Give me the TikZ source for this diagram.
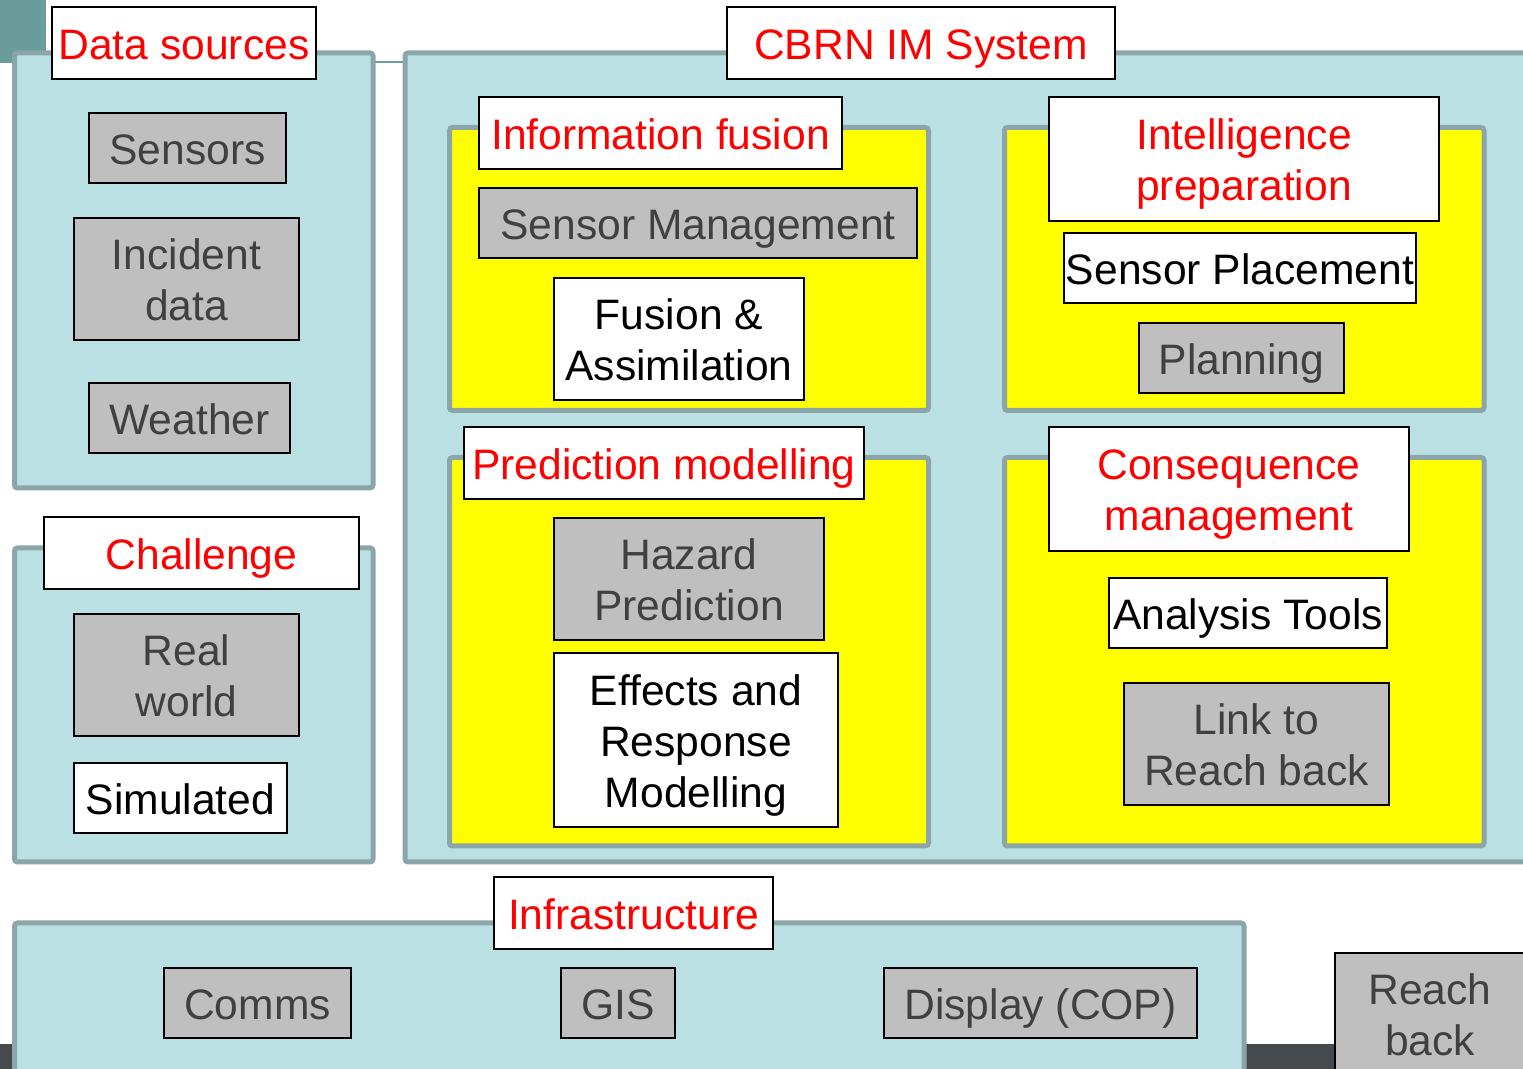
\documentclass[tikz,border=0pt]{standalone}
\usepackage{fontspec}
\setmainfont{Liberation Sans}
\definecolor{panelfill}{HTML}{BAE0E3}
\definecolor{panelline}{HTML}{8BA5A8}
\definecolor{zonefill}{HTML}{FFFF00}
\definecolor{greyfill}{HTML}{BFBFBF}
\definecolor{greytext}{HTML}{404040}
\definecolor{accent}{HTML}{6A9C9C}
\definecolor{darkbar}{HTML}{474A4D}
\begin{document}
\begin{tikzpicture}[x=0.5pt,y=-0.5pt,
  txt/.style={font=\fontsize{21.3}{25.5}\selectfont, align=center, inner sep=0pt},
  % fixed line metrics so that every line is centred the same way
  oneline/.style={text height=20.8pt, text depth=4.5pt},
  twolines/.style={text height=46.3pt, text depth=4.5pt},
  threelines/.style={text height=71.8pt, text depth=4.5pt},
  panel/.style={draw=panelline, fill=panelfill, line width=2.5pt, rounded corners=1.5pt, inner sep=0pt},
  zone/.style={draw=panelline, fill=zonefill, line width=2.5pt, rounded corners=1.5pt, inner sep=0pt},
  heading/.style={txt, draw=black, fill=white, line width=1pt, text=red},
  greybox/.style={txt, draw=black, fill=greyfill, line width=1pt, text=greytext},
  whitebox/.style={txt, draw=black, fill=white, line width=1pt, text=black}]
\useasboundingbox (0,0) rectangle (1523,1069);
\clip (0,0) rectangle (1523,1069);
\fill[white] (0,0) rectangle (1523,1069);

% page decoration
\fill[darkbar] (0,1044) rectangle (1523,1069);
\draw[accent, line width=1pt] (0,62) -- (1523,62);
\fill[accent] (0,0) rectangle (46,62);

% outer panels
\node[panel, minimum width=179.25pt, minimum height=217.5pt] (dsF) at (193.75,270.5) {};
\node[panel, minimum width=179.25pt, minimum height=157pt] (chF) at (193.75,705) {};
\node[panel, minimum width=565pt, minimum height=404.5pt] (cbF) at (970,457.5) {};
\node[panel, minimum width=614.75pt, minimum height=78.5pt] (inF) at (629.25,1001.5) {};

% yellow zones inside the system panel
\node[zone, minimum width=239.5pt, minimum height=141.5pt] (ifZ) at (689,269) {};
\node[zone, minimum width=239.75pt, minimum height=141.5pt] (ipZ) at (1244.25,269) {};
\node[zone, minimum width=239.5pt, minimum height=194.25pt] (pmZ) at (689,651.75) {};
\node[zone, minimum width=239.75pt, minimum height=194.25pt] (cmZ) at (1244.25,651.75) {};

% headings
\node[heading, oneline, minimum width=132pt, minimum height=36pt] (dsT) at (184,43) {Data sources};
\node[heading, oneline, minimum width=194pt, minimum height=36pt] (cbT) at (921,43) {CBRN IM System};
\node[heading, oneline, minimum width=181.5pt, minimum height=36pt] (ifT) at (660.5,133) {Information fusion};
\node[heading, twolines, minimum width=195pt, minimum height=62pt] (ipT) at (1244,159) {Intelligence\\preparation};
\node[heading, oneline, minimum width=200pt, minimum height=36pt] (pmT) at (664,463) {Prediction modelling};
\node[heading, twolines, minimum width=180pt, minimum height=62pt] (cmT) at (1229,489) {Consequence\\management};
\node[heading, oneline, minimum width=157.5pt, minimum height=36pt] (chT) at (201.5,553) {Challenge};
\node[heading, oneline, minimum width=139.5pt, minimum height=36pt] (inT) at (633.5,913) {Infrastructure};

% data sources
\node[greybox, oneline, minimum width=98.5pt, minimum height=35pt] (sens) at (187.5,148) {Sensors};
\node[greybox, twolines, minimum width=112.5pt, minimum height=61pt] (inc) at (186.5,279) {Incident\\data};
\node[greybox, oneline, minimum width=100.5pt, minimum height=35pt] (wea) at (189.5,418) {Weather};

% challenge
\node[greybox, twolines, minimum width=112.5pt, minimum height=61pt] (real) at (186.5,675) {Real\\world};
\node[whitebox, oneline, minimum width=106.5pt, minimum height=35pt] (sim) at (180.5,798) {Simulated};

% information fusion
\node[greybox, oneline, minimum width=219pt, minimum height=35pt] (smg) at (698,223) {Sensor Management};
\node[whitebox, twolines, minimum width=125pt, minimum height=61pt] (fus) at (679,339) {Fusion \&\\Assimilation};

% intelligence preparation
\node[whitebox, oneline, minimum width=176pt, minimum height=35pt] (spl) at (1240,268) {Sensor Placement};
\node[greybox, oneline, minimum width=102.5pt, minimum height=35pt] (pln) at (1241.5,358) {Planning};

% prediction modelling
\node[greybox, twolines, minimum width=135pt, minimum height=61pt] (haz) at (689,579) {Hazard\\Prediction};
\node[whitebox, threelines, minimum width=142pt, minimum height=87pt] (eff) at (696,740) {Effects and\\Response\\Modelling};

% consequence management
\node[whitebox, oneline, minimum width=139pt, minimum height=35pt] (ana) at (1248,613) {Analysis Tools};
\node[greybox, twolines, minimum width=132.5pt, minimum height=61pt] (lnk) at (1256.5,744) {Link to\\Reach back};

% infrastructure
\node[greybox, oneline, minimum width=93.5pt, minimum height=35pt] (com) at (257.5,1003) {Comms};
\node[greybox, oneline, minimum width=57pt, minimum height=35pt] (gis) at (618,1003) {GIS};
\node[greybox, oneline, minimum width=156.5pt, minimum height=35pt] (cop) at (1040.5,1003) {Display (COP)};

% reach back
\node[greybox, twolines, minimum width=95pt, minimum height=61pt] (rb) at (1430,1014) {Reach\\back};
\end{tikzpicture}
\end{document}
